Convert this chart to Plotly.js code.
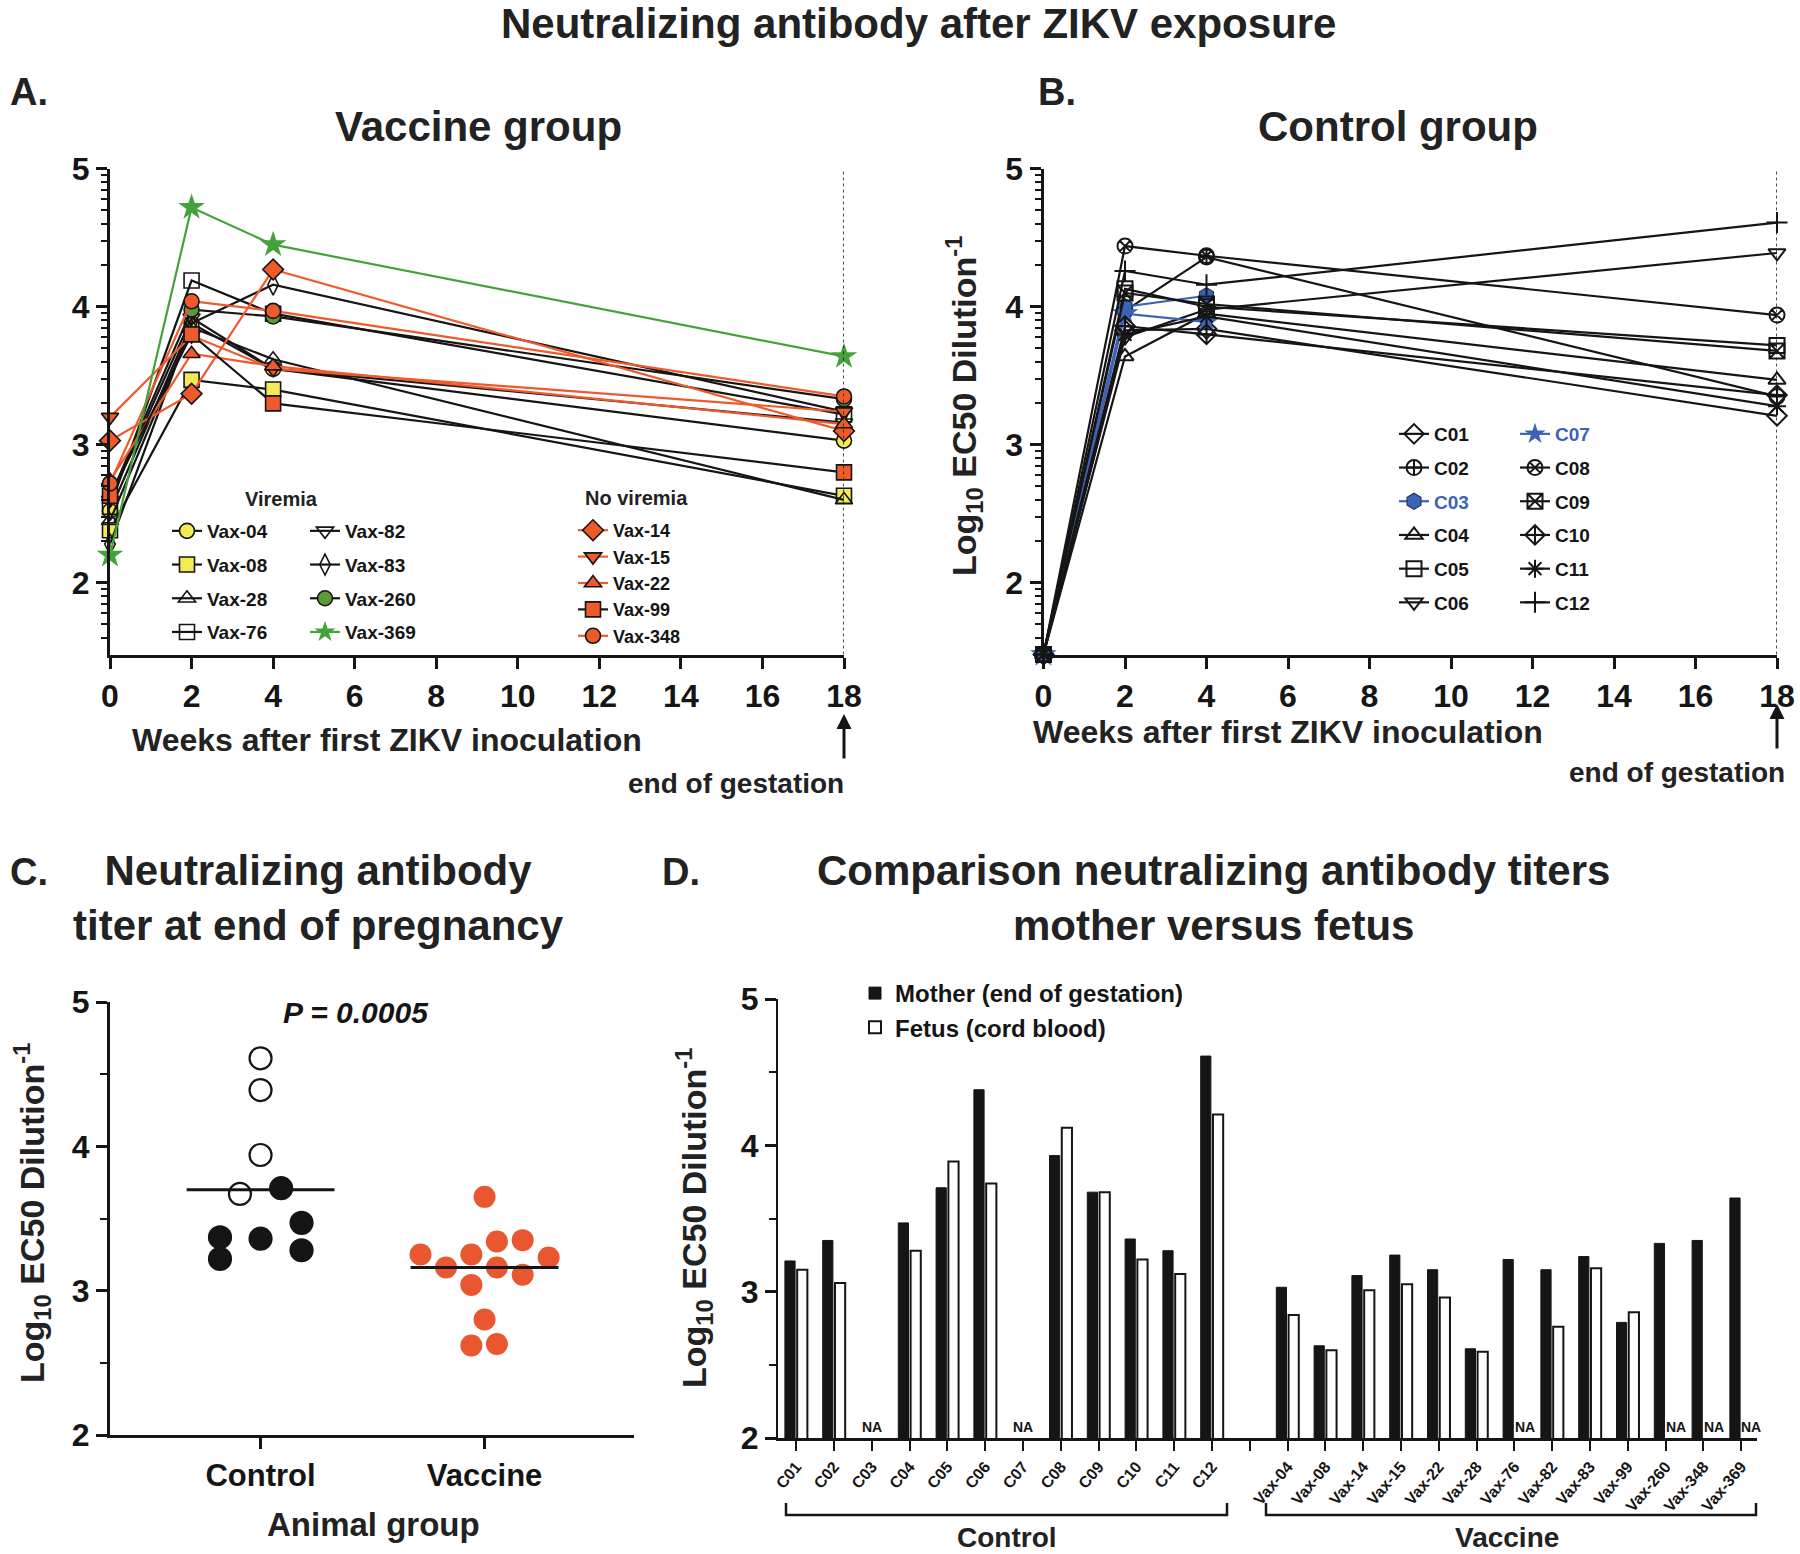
<!DOCTYPE html>
<html><head><meta charset="utf-8">
<script src="https://cdn.plot.ly/plotly-3.0.1.min.js"></script>
<style>body{margin:0;background:#fff}</style>
</head><body><div id="chart" style="width:1800px;height:1554px"></div>
<script>
// ---------------- DATA ----------------
const weeks = [0, 2, 4, 18];
// Panel A: vaccine group (log10 EC50 at weeks 0,2,4,18)
const vax04 = [2.52, 3.88, 3.55, 3.03];
const vax08 = [2.38, 3.47, 3.40, 2.63];
const vax28 = [2.45, 3.85, 3.62, 2.60];
const vax76 = [2.55, 4.19, 3.95, 3.22];
const vax82 = [2.60, 3.92, 3.55, 3.16];
const vax83 = [2.28, 3.88, 4.16, 3.24];
const vax260 = [2.62, 3.98, 3.93, 3.33];
const vax369 = [2.20, 4.72, 4.45, 3.64];
const vax14 = [3.03, 3.37, 4.27, 3.10];
const vax15 = [3.20, 3.79, 3.55, 3.24];
const vax22 = [2.74, 3.66, 3.57, 3.15];
const vax99 = [2.63, 3.80, 3.30, 2.80];
const vax348 = [2.72, 4.04, 3.97, 3.35];
// Panel B: control group
const c01 = [1.48, 3.83, 3.84, 3.21];
const c02 = [1.48, 3.97, 4.36, 3.35];
const c03 = [1.48, 4.00, 4.08, null];
const c04 = [1.48, 3.64, 3.95, 3.47];
const c05 = [1.48, 4.13, 4.00, 3.72];
const c06 = [1.48, 3.78, 3.98, 4.39];
const c07 = [1.48, 3.95, 3.89, null];
const c08 = [1.48, 4.44, 4.37, 3.94];
const c09 = [1.48, 4.10, 4.02, 3.68];
const c10 = [1.48, 3.86, 3.80, 3.36];
const c11 = [1.48, 3.80, 3.93, 3.28];
const c12 = [1.48, 4.26, 4.16, 4.61];
// Panel C: titer at end of pregnancy
const groupNames = ['Control', 'Vaccine'];
const ctrlTiter = [4.61, 4.39, 3.94, 3.67, 3.71, 3.47, 3.37, 3.36, 3.28, 3.22];
const ctrlOpen  = [true, true, true, true, false, false, false, false, false, false];
const vacTiter  = [3.65, 3.34, 3.35, 3.25, 3.25, 3.23, 3.16, 3.16, 3.11, 3.04, 2.80, 2.62, 2.63];
const groupLine = [3.70, 3.16];
// Panel D: mother vs fetus
const controlIds = ['C01','C02','C03','C04','C05','C06','C07','C08','C09','C10','C11','C12'];
const controlMother = [3.21, 3.35, null, 3.47, 3.71, 4.38, null, 3.93, 3.68, 3.36, 3.28, 4.61];
const controlFetus  = [3.15, 3.06, null, 3.28, 3.89, 3.74, null, 4.12, 3.68, 3.22, 3.12, 4.21];
const vaccineIds = ['Vax-04','Vax-08','Vax-14','Vax-15','Vax-22','Vax-28','Vax-76','Vax-82','Vax-83','Vax-99','Vax-260','Vax-348','Vax-369'];
const vaccineMother = [3.03, 2.63, 3.11, 3.25, 3.15, 2.61, 3.22, 3.15, 3.24, 2.79, 3.33, 3.35, 3.64];
const vaccineFetus  = [2.84, 2.60, 3.01, 3.05, 2.96, 2.59, null, 2.76, 3.16, 2.86, null, null, null];

// ---------------- LAYOUT HELPERS ----------------
const W = 1800, H = 1554;
const px = v => v / W, py = v => 1 - v / H;
const SANS = '"Liberation Sans", Arial, sans-serif';
const BLACK = '#151515', RED = '#ef5a2c', YEL = '#f4ea55', GRN = '#5b9a3b', STAR = '#45a23a', BLUE = '#3d63b6';

// beeswarm offsets for panel C (layout only)
const ctrlSpread = [0, 0, 0, -0.092, 0.092, 0.183, -0.181, 0, 0.183, -0.181];
const vacSpread  = [0, 0.055, 0.170, -0.286, -0.059, 0.286, -0.172, 0.055, 0.170, -0.059, 0, -0.059, 0.055];

const traces = [];
function series(name, y, xa, ya, legend, st) {
  traces.push({
    type: 'scatter', mode: 'lines+markers', x: weeks, y: y, name: name,
    xaxis: xa, yaxis: ya, legend: legend, legendgroup: name, cliponaxis: false,
    line: {color: st.lc, width: 2.2},
    marker: {symbol: st.sym, size: st.size || 15, color: st.fc,
             line: {color: st.mlc || BLACK, width: st.mlw === undefined ? 1.6 : st.mlw}},
    hoverinfo: 'name+y'
  });
}
// Panel A
series('Vax-04', vax04, 'x', 'y', 'legend', {lc: BLACK, sym: 'circle', fc: YEL});
series('Vax-08', vax08, 'x', 'y', 'legend', {lc: BLACK, sym: 'square', fc: YEL});
series('Vax-28', vax28, 'x', 'y', 'legend', {lc: BLACK, sym: 'triangle-up-open', fc: BLACK});
series('Vax-76', vax76, 'x', 'y', 'legend', {lc: BLACK, sym: 'square-open', fc: BLACK});
series('Vax-82', vax82, 'x', 'y', 'legend2', {lc: BLACK, sym: 'triangle-down-open', fc: BLACK});
series('Vax-83', vax83, 'x', 'y', 'legend2', {lc: BLACK, sym: 'diamond-tall-open', fc: BLACK});
series('Vax-260', vax260, 'x', 'y', 'legend2', {lc: BLACK, sym: 'circle', fc: GRN});
series('Vax-14', vax14, 'x', 'y', 'legend3', {lc: RED, sym: 'diamond', fc: RED, size: 16});
series('Vax-15', vax15, 'x', 'y', 'legend3', {lc: RED, sym: 'triangle-down', fc: RED});
series('Vax-22', vax22, 'x', 'y', 'legend3', {lc: RED, sym: 'triangle-up', fc: RED});
series('Vax-99', vax99, 'x', 'y', 'legend3', {lc: BLACK, sym: 'square', fc: RED});
series('Vax-348', vax348, 'x', 'y', 'legend3', {lc: RED, sym: 'circle', fc: RED});
series('Vax-369', vax369, 'x', 'y', 'legend2', {lc: STAR, sym: 'star', fc: STAR, size: 20, mlc: STAR, mlw: 0});
// Panel B
const openSt = sym => ({lc: BLACK, sym: sym, fc: BLACK, mlw: 2});
series('C01', c01, 'x2', 'y2', 'legend4', openSt('diamond-open'));
series('C02', c02, 'x2', 'y2', 'legend4', openSt('circle-cross-open'));
series('<span style="color:' + BLUE + '">C03</span>', c03, 'x2', 'y2', 'legend4', {lc: BLUE, sym: 'hexagon', fc: BLUE, mlc: '#22335c', mlw: 1.2, size: 16});
series('C04', c04, 'x2', 'y2', 'legend4', openSt('triangle-up-open'));
series('C05', c05, 'x2', 'y2', 'legend4', openSt('square-open'));
series('C06', c06, 'x2', 'y2', 'legend4', openSt('triangle-down-open'));
series('<span style="color:' + BLUE + '">C07</span>', c07, 'x2', 'y2', 'legend5', {lc: BLUE, sym: 'star', fc: BLUE, mlc: BLUE, mlw: 0, size: 20});
series('C08', c08, 'x2', 'y2', 'legend5', openSt('circle-x-open'));
series('C09', c09, 'x2', 'y2', 'legend5', openSt('square-x-open'));
series('C10', c10, 'x2', 'y2', 'legend5', openSt('diamond-cross-open'));
series('C11', c11, 'x2', 'y2', 'legend5', openSt('asterisk-open'));
series('C12', c12, 'x2', 'y2', 'legend5', openSt('cross-thin-open'));

// Panel C
traces.push({
  type: 'scatter', mode: 'markers', xaxis: 'x3', yaxis: 'y3', showlegend: false, cliponaxis: false,
  x: ctrlTiter.map((v, i) => 0 + ctrlSpread[i]), y: ctrlTiter, name: groupNames[0],
  marker: {size: 22, color: ctrlOpen.map(o => o ? '#ffffff' : BLACK), line: {color: BLACK, width: 2.2}}
});
traces.push({
  type: 'scatter', mode: 'markers', xaxis: 'x3', yaxis: 'y3', showlegend: false, cliponaxis: false,
  x: vacTiter.map((v, i) => 1 + vacSpread[i]), y: vacTiter, name: groupNames[1],
  marker: {size: 22, color: '#e8572f', line: {width: 0}}
});

// Panel D
const dIds = [], dPos = [], dMother = [], dFetus = [];
controlIds.forEach((id, i) => { dIds.push(id); dPos.push(i); dMother.push(controlMother[i]); dFetus.push(controlFetus[i]); });
vaccineIds.forEach((id, i) => { dIds.push(id); dPos.push(controlIds.length + 1 + i); dMother.push(vaccineMother[i]); dFetus.push(vaccineFetus[i]); });
traces.push({type: 'bar', xaxis: 'x4', yaxis: 'y4', x: dPos, y: dMother, name: 'Mother (end of gestation)',
  legend: 'legend6', marker: {color: BLACK, line: {color: BLACK, width: 1}}, hovertext: dIds, hoverinfo: 'text+y'});
traces.push({type: 'bar', xaxis: 'x4', yaxis: 'y4', x: dPos, y: dFetus, name: 'Fetus (cord blood)',
  legend: 'legend6', marker: {color: '#ffffff', line: {color: BLACK, width: 2}}, hovertext: dIds, hoverinfo: 'text+y'});

const tickPos = [], tickText = [];
for (let p = 0; p <= controlIds.length + vaccineIds.length; p++) {
  tickPos.push(p);
  const k = dPos.indexOf(p);
  tickText.push(k >= 0 ? dIds[k] : ' ');
}

// ---------------- AXES ----------------
const logMinor = [];
for (let d = 1; d <= 4; d++) for (let k = 2; k <= 9; k++) { const v = d + Math.log10(k); if (v > 1.49 && v < 5) logMinor.push(v); }
const tickF = {family: SANS, size: 32, color: BLACK, weight: 'bold'};
const common = {showline: true, linecolor: BLACK, linewidth: 3, ticks: 'outside', ticklen: 11, tickwidth: 3,
  tickcolor: BLACK, showgrid: false, zeroline: false, tickfont: tickF, fixedrange: true};
const yLog = (anchor) => Object.assign({}, common, {anchor: anchor, range: [1.48, 5], tickvals: [2, 3, 4, 5],
  domain: [py(654.5), py(168.8)],
  minor: {tickmode: 'array', tickvals: logMinor, ticks: 'outside', ticklen: 6, tickwidth: 2, tickcolor: BLACK}});
const xWeeks = (dom, anchor) => Object.assign({}, common, {anchor: anchor, domain: dom, range: [0, 18],
  tickvals: [0, 2, 4, 6, 8, 10, 12, 14, 16, 18]});

const ann = [];
const A = (text, x, y, size, extra) => ann.push(Object.assign({text: text, x: x, y: y, xref: 'paper', yref: 'paper',
  xanchor: 'center', yanchor: 'middle', showarrow: false,
  font: {family: SANS, size: size, color: '#222', weight: 'bold'}}, extra || {}));
A('Neutralizing antibody after ZIKV exposure', px(918), py(23), 42);
A('A.', px(8), py(92), 38, {xanchor: 'left'});
A('B.', px(1036), py(92), 38, {xanchor: 'left'});
A('C.', px(8), py(872), 38, {xanchor: 'left'});
A('D.', px(660), py(872), 38, {xanchor: 'left'});
A('Vaccine group', px(478), py(126), 42);
A('Control group', px(1398), py(126), 42);
A('Neutralizing antibody<br>titer at end of pregnancy', px(318), py(898), 42);
A('Comparison neutralizing antibody titers<br>mother versus fetus', px(1213), py(898), 42);
A('Viremia', px(281), py(499), 20);
A('No viremia', px(583), py(498), 20, {xanchor: 'left'});
A('P = 0.0005', px(356), py(1012), 30, {font: {family: SANS, size: 30, color: BLACK, weight: 'bold', style: 'italic'}});
A('Weeks after first ZIKV inoculation', px(387), py(740), 32);
A('Weeks after first ZIKV inoculation', px(1288), py(732), 32);
A('end of gestation', px(736), py(784), 28);
A('end of gestation', px(1677), py(773), 28);
const yTitle = 'Log<sub>10</sub> EC50 Dilution<sup>-1</sup>';
A(yTitle, px(964), py(406), 34, {textangle: -90});
A(yTitle, px(32), py(1213), 34, {textangle: -90});
A(yTitle, px(694), py(1218), 34, {textangle: -90});
A('Animal group', px(373), py(1524), 33);
A('Control', px(1007), py(1537), 28);
A('Vaccine', px(1507), py(1537), 28);
// arrows to end of gestation
ann.push({xref: 'x', yref: 'paper', x: 18, y: py(714), text: '', showarrow: true, ax: 0, ay: 46,
  arrowhead: 2, arrowsize: 1, arrowwidth: 3, arrowcolor: BLACK});
ann.push({xref: 'x2', yref: 'paper', x: 18, y: py(704), text: '', showarrow: true, ax: 0, ay: 46,
  arrowhead: 2, arrowsize: 1, arrowwidth: 3, arrowcolor: BLACK});
// NA labels in panel D
dIds.forEach((id, i) => {
  if (dFetus[i] === null) {
    const both = dMother[i] === null;
    ann.push({xref: 'x4', yref: 'y4', x: dPos[i] + (both ? 0 : 0.27), y: 2, yanchor: 'bottom', xanchor: 'center', yshift: 1,
      text: 'NA', showarrow: false, font: {family: SANS, size: 14, color: BLACK, weight: 'bold'}});
  }
});

const shapes = [
  {type: 'line', xref: 'x', yref: 'y', x0: 18, x1: 18, y0: 1.48, y1: 5, line: {color: BLACK, width: 1.5, dash: 'dot'}},
  {type: 'line', xref: 'x2', yref: 'y2', x0: 18, x1: 18, y0: 1.48, y1: 5, line: {color: BLACK, width: 1.5, dash: 'dot'}},
];
groupLine.forEach((v, i) => shapes.push({type: 'line', xref: 'x3', yref: 'y3', x0: i - 0.33, x1: i + 0.33, y0: v, y1: v,
  line: {color: BLACK, width: 3}}));
function bracket(x0, x1) {
  const yb = py(1515), yt = py(1503);
  return {type: 'path', xref: 'paper', yref: 'paper',
    path: `M ${px(x0)},${yt} L ${px(x0)},${yb} L ${px(x1)},${yb} L ${px(x1)},${yt}`, line: {color: BLACK, width: 2.5}};
}
shapes.push(bracket(786, 1227));
shapes.push(bracket(1266, 1756));

function leg(x, yTop, fs, gap) {
  return {x: px(x), y: py(yTop), xanchor: 'left', yanchor: 'top', bgcolor: 'rgba(0,0,0,0)', borderwidth: 0,
    font: {family: SANS, size: fs, color: BLACK, weight: 'bold'}, tracegroupgap: gap, traceorder: 'grouped',
    itemclick: false, itemdoubleclick: false};
}

const layout = {
  width: W, height: H, margin: {l: 0, r: 0, t: 0, b: 0}, paper_bgcolor: '#fff', plot_bgcolor: 'rgba(0,0,0,0)',
  showlegend: true, barmode: 'group', bargap: 0.35, bargroupgap: 0.17, hovermode: 'closest',
  xaxis: xWeeks([px(110), px(844)], 'y'),
  yaxis: yLog('x'),
  xaxis2: xWeeks([px(1043.5), px(1777)], 'y2'),
  yaxis2: yLog('x2'),
  xaxis3: Object.assign({}, common, {anchor: 'y3', domain: [px(110), px(634)], range: [-0.672, 1.667],
    tickvals: [0, 1], ticktext: groupNames, tickfont: {family: SANS, size: 31, color: BLACK, weight: 'bold'}}),
  yaxis3: Object.assign({}, common, {anchor: 'x3', domain: [py(1435), py(1002)], range: [2, 5], tickvals: [2, 3, 4, 5],
    minor: {dtick: 0.5, ticks: 'outside', ticklen: 7, tickwidth: 2, tickcolor: BLACK}}),
  xaxis4: Object.assign({}, common, {anchor: 'y4', domain: [px(778), px(1757)], range: [-0.48, 25.42],
    tickvals: tickPos, ticktext: tickText, tickangle: -50, ticklen: 10, tickwidth: 2,
    tickfont: {family: SANS, size: 16, color: BLACK, weight: 'bold'}}),
  yaxis4: Object.assign({}, common, {anchor: 'x4', domain: [py(1438), py(999)], range: [2, 5], tickvals: [2, 3, 4, 5],
    linewidth: 2, minor: {dtick: 0.5, ticks: 'outside', ticklen: 7, tickwidth: 2, tickcolor: BLACK}}),
  legend: leg(167, 512, 19, 6),
  legend2: leg(305, 512, 19, 6),
  legend3: leg(573, 512, 18, 0),
  legend4: leg(1394, 415, 19, 6),
  legend5: leg(1515, 415, 19, 6),
  legend6: leg(855, 971, 24, 7),
  annotations: ann, shapes: shapes
};
Plotly.newPlot('chart', traces, layout, {staticPlot: false, displayModeBar: false});
</script></body></html>
